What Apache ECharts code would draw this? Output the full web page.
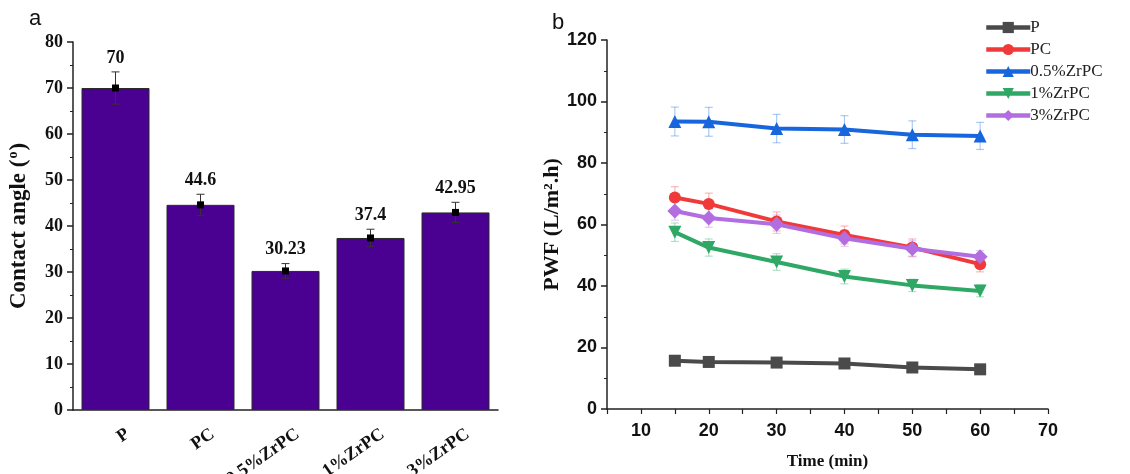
<!DOCTYPE html>
<html><head><meta charset="utf-8">
<script src="https://cdn.jsdelivr.net/npm/echarts@6/dist/echarts.min.js"></script>
<style>html,body{margin:0;padding:0;background:#fff}#c{width:1130px;height:474px}</style>
</head><body><div id="c"></div>
<script>
// ---- Panel a data ----
const categories = ['P', 'PC', '0.5%ZrPC', '1%ZrPC', '3%ZrPC'];
const contactAngle = [70, 44.6, 30.23, 37.4, 42.95];
const contactAngleErr = [3.5, 2.3, 1.6, 1.9, 2.2];
const contactLabels = ['70', '44.6', '30.23', '37.4', '42.95'];

// ---- Panel b data ----
const timeMin = [15, 20, 30, 40, 50, 60];
const seriesNames = ['P', 'PC', '0.5%ZrPC', '1%ZrPC', '3%ZrPC'];
const pwfP   = [15.7, 15.3, 15.1, 14.8, 13.5, 12.9];
const pwfPC  = [68.8, 66.7, 61.0, 56.6, 52.5, 47.1];
const pwf05  = [93.5, 93.4, 91.2, 90.9, 89.2, 88.8];
const pwf1   = [57.5, 52.5, 47.8, 43.1, 40.2, 38.4];
const pwf3   = [64.4, 62.1, 60.1, 55.5, 52.1, 49.5];
const errP   = [0.6, 0.6, 0.6, 0.6, 0.6, 0.6];
const errPC  = [3.5, 3.5, 3.1, 2.9, 2.8, 2.5];
const err05  = [4.7, 4.7, 4.6, 4.5, 4.5, 4.4];
const err1   = [3.0, 2.8, 2.7, 2.4, 2.0, 1.9];
const err3   = [3.0, 3.0, 3.0, 2.6, 2.6, 2.0];
const xTickLabels = [10, 20, 30, 40, 50, 60, 70];

const SERIF = '"Liberation Serif", "Times New Roman", serif';
const SANS = '"Liberation Sans", Arial, sans-serif';
const AX = '#222';

const pwfValues = [pwfP, pwfPC, pwf05, pwf1, pwf3];
const pwfErrs = [errP, errPC, err05, err1, err3];
const colors = ['#4a4a4a', '#f03a3a', '#1866dd', '#2ea864', '#b26ee0'];
const errColors = ['rgba(74,74,74,0.45)', 'rgba(240,58,58,0.35)', 'rgba(24,102,221,0.35)', 'rgba(46,168,100,0.35)', 'rgba(178,110,224,0.35)'];
const symbols = ['rect', 'circle', 'triangle', 'path://M0,0L10,0L5,9Z', 'diamond'];
const symbolSizes = [12, 12, 13, 13, 15];

function errBarRight(params, api) {
  const x = api.value(0), lo = api.value(1), hi = api.value(2);
  const a = api.coord([x, hi]), b = api.coord([x, lo]);
  const w = 4;
  const style = { stroke: api.visual('color'), lineWidth: 1.2 };
  return { type: 'group', children: [
    { type: 'line', shape: { x1: a[0], y1: a[1], x2: b[0], y2: b[1] }, style },
    { type: 'line', shape: { x1: a[0] - w, y1: a[1], x2: a[0] + w, y2: a[1] }, style },
    { type: 'line', shape: { x1: b[0] - w, y1: b[1], x2: b[0] + w, y2: b[1] }, style }
  ]};
}

function errBarLeft(params, api) {
  const i = api.value(0), lo = api.value(1), hi = api.value(2), m = api.value(3);
  const a = api.coord([i, hi]), b = api.coord([i, lo]), c = api.coord([i, m]);
  const w = 4;
  const style = { stroke: '#333', lineWidth: 1 };
  return { type: 'group', children: [
    { type: 'line', shape: { x1: a[0], y1: a[1], x2: b[0], y2: b[1] }, style },
    { type: 'line', shape: { x1: a[0] - w, y1: a[1], x2: a[0] + w, y2: a[1] }, style },
    { type: 'line', shape: { x1: b[0] - w, y1: b[1], x2: b[0] + w, y2: b[1] }, style },
    { type: 'rect', shape: { x: c[0] - 3.5, y: c[1] - 3.5, width: 7, height: 7 }, style: { fill: '#000' } },
    { type: 'text', style: { text: contactLabels[params.dataIndex], x: a[0], y: a[1] - 5,
        align: 'center', verticalAlign: 'bottom', font: 'bold 18px ' + SERIF, fill: '#111' } }
  ]};
}

const series = [
  { type: 'bar', xAxisIndex: 0, yAxisIndex: 0, data: contactAngle, barCategoryGap: '20%',
    itemStyle: { color: '#4a0090', borderColor: '#2b2b2b', borderWidth: 1 }, z: 2 },
  { type: 'custom', xAxisIndex: 0, yAxisIndex: 0, renderItem: errBarLeft, clip: false, z: 5,
    encode: { x: 0, y: [1, 2] },
    data: contactAngle.map((v, i) => [i, v - contactAngleErr[i], v + contactAngleErr[i], v]) }
];
seriesNames.forEach((name, k) => {
  series.push({ type: 'custom', xAxisIndex: 2, yAxisIndex: 1, renderItem: errBarRight, clip: false, z: 1,
    itemStyle: { color: errColors[k] }, encode: { x: 0, y: [1, 2] },
    data: timeMin.map((t, j) => [t, pwfValues[k][j] - pwfErrs[k][j], pwfValues[k][j] + pwfErrs[k][j]]) });
});
seriesNames.forEach((name, k) => {
  series.push({ name, type: 'line', xAxisIndex: 2, yAxisIndex: 1,
    data: timeMin.map((t, j) => [t, pwfValues[k][j]]),
    symbol: symbols[k], symbolSize: symbolSizes[k], showSymbol: true,
    lineStyle: { width: 4, color: colors[k] }, itemStyle: { color: colors[k] }, z: 3 + k });
});

const option = {
  animation: false,
  backgroundColor: '#fff',
  title: [
    { text: 'a', left: 24, top: 3, textStyle: { fontFamily: SANS, fontSize: 22, fontWeight: 'normal', color: '#111' } },
    { text: 'b', left: 547, top: 7, textStyle: { fontFamily: SANS, fontSize: 22, fontWeight: 'normal', color: '#111' } }
  ],
  legend: {
    data: seriesNames, orient: 'vertical', left: 979, top: 14, itemWidth: 44, itemHeight: 14, itemGap: 5,
    lineStyle: { width: 4.5 },
    textStyle: { fontFamily: SERIF, fontSize: 17, color: '#222', padding: [0, 0, 0, -5] }
  },
  grid: [
    { left: 73, right: 632, top: 42, bottom: 64, outerBoundsMode: 'none', containLabel: false },
    { left: 607, right: 82, top: 40, bottom: 65, outerBoundsMode: 'none', containLabel: false }
  ],
  xAxis: [
    { type: 'category', gridIndex: 0, data: categories, position: 'bottom',
      axisLine: { lineStyle: { color: AX, width: 1.5 } },
      axisTick: { alignWithLabel: true, length: 7, lineStyle: { color: AX, width: 1.5 } },
      axisLabel: { rotate: 35, margin: 31, fontFamily: SERIF, fontWeight: 'bold', fontSize: 18, color: '#111',
        padding: [0, -15, 0, 0] },
      splitLine: { show: false } },
    { type: 'category', gridIndex: 0, data: categories, position: 'bottom',
      axisLine: { show: false },
      axisTick: { length: 4, lineStyle: { color: AX, width: 1 } },
      axisLabel: { show: false }, splitLine: { show: false } },
    { type: 'value', gridIndex: 1, min: 5, max: 70, interval: 5,
      name: 'Time (min)', nameLocation: 'middle', nameGap: 44,
      nameTextStyle: { fontFamily: SERIF, fontWeight: 'bold', fontSize: 17, color: '#111' },
      axisLine: { lineStyle: { color: AX, width: 1.5 } },
      axisTick: { length: 5, lineStyle: { color: AX, width: 1.2 } },
      axisLabel: { margin: 13, fontFamily: SANS, fontWeight: 'bold', fontSize: 18, color: '#111',
        formatter: v => (xTickLabels.indexOf(v) >= 0 ? String(v) : '') },
      splitLine: { show: false } }
  ],
  yAxis: [
    { type: 'value', gridIndex: 0, min: 0, max: 80, interval: 10,
      name: '{n|Contact angle (}{s|o}{n|)}', nameLocation: 'middle', nameGap: 41,
      nameTextStyle: { rich: {
        n: { fontFamily: SERIF, fontWeight: 'bold', fontSize: 23, color: '#111', lineHeight: 26 },
        s: { fontFamily: SERIF, fontWeight: 'bold', fontSize: 14, color: '#111', verticalAlign: 'top', lineHeight: 26, padding: [0, 1, 10, 1] } } },
      axisLine: { show: true, lineStyle: { color: AX, width: 1.5 } },
      axisTick: { show: true, length: 6, lineStyle: { color: AX, width: 1.5 } },
      minorTick: { show: true, splitNumber: 2, length: 3, lineStyle: { color: AX, width: 1 } },
      axisLabel: { margin: 10, fontFamily: SERIF, fontWeight: 'bold', fontSize: 18, color: '#111' },
      splitLine: { show: false } },
    { type: 'value', gridIndex: 1, min: 0, max: 120, interval: 20,
      name: 'PWF (L/m².h)', nameLocation: 'middle', nameGap: 44,
      nameTextStyle: { fontFamily: SERIF, fontWeight: 'bold', fontSize: 22, color: '#111' },
      axisLine: { show: true, lineStyle: { color: AX, width: 1.5 } },
      axisTick: { show: true, length: 6, lineStyle: { color: AX, width: 1.5 } },
      minorTick: { show: true, splitNumber: 2, length: 3, lineStyle: { color: AX, width: 1 } },
      axisLabel: { margin: 10, fontFamily: SANS, fontWeight: 'bold', fontSize: 18, color: '#111' },
      splitLine: { show: false } }
  ],
  series
};

const chart = echarts.init(document.getElementById('c'), null, { renderer: 'canvas' });
chart.setOption(option);
</script>
</body></html>
